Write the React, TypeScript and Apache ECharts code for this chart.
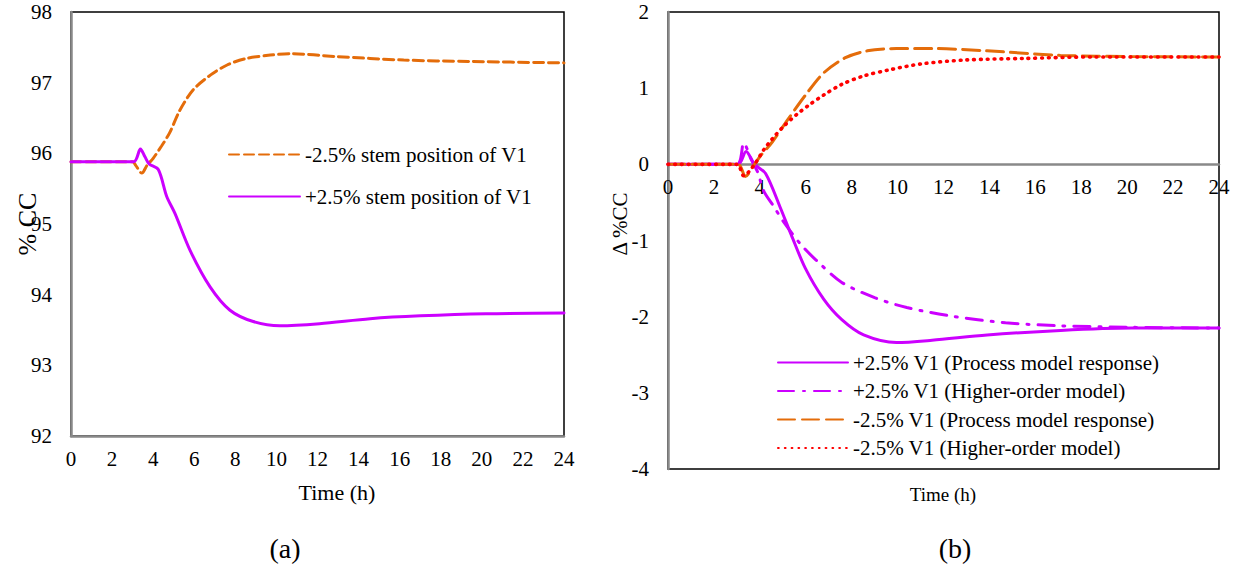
import React, { useEffect, useRef } from "react";
import * as echarts from "echarts";

// ---- Data ----
// (a) absolute %CC
const aMinusT = [0, 3.0, 3.15, 3.45, 3.7, 4.0, 4.4, 4.8, 5.3, 5.95, 6.8, 7.6, 8.5, 9.7, 10.7, 12.9, 16.2, 19.4, 24];
const aMinusV = [95.88, 95.88, 95.83, 95.72, 95.83, 95.93, 96.1, 96.29, 96.61, 96.9, 97.11, 97.25, 97.34, 97.39, 97.41, 97.37, 97.32, 97.3, 97.28];
const aPlusT = [0, 3.05, 3.38, 3.6, 3.8, 4.25, 4.66, 5.06, 5.79, 6.77, 7.74, 8.87, 10.17, 12.1, 14.56, 17, 20.2, 24];
const aPlusV = [95.88, 95.88, 96.06, 95.95, 95.85, 95.77, 95.39, 95.15, 94.63, 94.11, 93.78, 93.62, 93.56, 93.59, 93.66, 93.7, 93.73, 93.74];

// (b) delta %CC
const bPlusProcT = [0, 3.05, 3.4, 3.77, 4.25, 4.88, 5.36, 5.99, 6.78, 7.57, 8.52, 9.95, 11.5, 13.9, 17.1, 20.2, 24];
const bPlusProcV = [0, 0, 0.17, 0, -0.12, -0.56, -0.92, -1.37, -1.77, -2.04, -2.24, -2.34, -2.31, -2.24, -2.18, -2.15, -2.15];
const bPlusHighT = [0, 3.0, 3.3, 3.6, 3.93, 4.15, 4.6, 5.0, 5.75, 6.46, 7.57, 9.0, 10.4, 12.3, 14.7, 17.1, 20.2, 24];
const bPlusHighV = [0, 0, 0.28, 0.08, -0.12, -0.34, -0.55, -0.74, -1.04, -1.26, -1.55, -1.75, -1.88, -1.99, -2.08, -2.12, -2.14, -2.15];
const bMinusProcT = [0, 3.05, 3.37, 3.7, 4.0, 4.56, 5.2, 5.99, 6.78, 7.73, 8.68, 9.95, 11.5, 13.9, 17.1, 20.2, 24];
const bMinusProcV = [0, 0, -0.16, -0.03, 0.1, 0.3, 0.58, 0.91, 1.2, 1.4, 1.49, 1.52, 1.52, 1.49, 1.43, 1.415, 1.41];
const bMinusHighT = [0, 3.0, 3.3, 3.77, 4.17, 4.56, 5.04, 5.59, 6.15, 6.78, 7.57, 8.52, 9.63, 11.06, 12.96, 15.5, 18.66, 24];
const bMinusHighV = [0, 0, -0.15, 0, 0.19, 0.34, 0.5, 0.65, 0.78, 0.91, 1.05, 1.16, 1.24, 1.32, 1.37, 1.39, 1.41, 1.41];

const xTicks = { min: 0, max: 24, interval: 2 };
const aY = { min: 92, max: 98, interval: 1 };
const bY = { min: -4, max: 2, interval: 1 };

const names = {
  aMinus: "-2.5% stem position of V1",
  aPlus: "+2.5% stem position of V1",
  bPlusProc: "+2.5% V1 (Process model response)",
  bPlusHigh: "+2.5% V1 (Higher-order model)",
  bMinusProc: "-2.5% V1 (Process model response)",
  bMinusHigh: "-2.5% V1 (Higher-order model)",
};

const ORANGE = "#E46C0A";
const PURPLE = "#CC00FF";
const RED = "#FF0000";
const GRAY = "#898989";
const FONT = "'Liberation Serif', 'Times New Roman', serif";

const zip = (t: number[], v: number[]) => t.map((x, i) => [x, v[i]]);

export default function App() {
  const ref = useRef<HTMLDivElement>(null);
  useEffect(() => {
    if (!ref.current) return;
    const chart = echarts.init(ref.current, undefined, { renderer: "svg" });
    const axisLabel = { color: "#000", fontFamily: FONT, fontSize: 21 };
    const mkX = (gridIndex: number, offset: number) => ({
      type: "value",
      gridIndex,
      ...xTicks,
      offset,
      axisLine: { show: true, onZero: false, lineStyle: { color: GRAY, width: 2.5 } },
      axisTick: { show: false },
      splitLine: { show: false },
      axisLabel: { ...axisLabel, margin: 12 },
    });
    const mkY = (gridIndex: number, r: any) => ({
      type: "value",
      gridIndex,
      ...r,
      axisLine: { show: true, lineStyle: { color: GRAY, width: 2.5 } },
      axisTick: { show: false },
      splitLine: { show: false },
      axisLabel: { ...axisLabel, margin: 19 },
    });
    const line = (name: string, xi: number, data: number[][], color: string, type: any, width = 3) => ({
      type: "line",
      name,
      xAxisIndex: xi,
      yAxisIndex: xi,
      data,
      smooth: 0.3,
      symbol: "none",
      showSymbol: false,
      lineStyle: { color, width, type, cap: "round" },
      itemStyle: { color },
    });
    const legendText = { color: "#000", fontFamily: FONT, fontSize: 21 };
    chart.setOption({
      animation: false,
      textStyle: { fontFamily: FONT },
      grid: [
        { left: 71, top: 12, width: 493, height: 424, show: true, borderColor: "#000", borderWidth: 1.5 },
        { left: 668, top: 12, width: 551, height: 457, show: true, borderColor: "#000", borderWidth: 1.5 },
      ],
      xAxis: [mkX(0, 0), mkX(1, -(457 * 4) / 6)],
      yAxis: [mkY(0, aY), mkY(1, bY)],
      legend: [
        {
          data: [names.aMinus, names.aPlus],
          orient: "vertical",
          left: 223,
          top: 139,
          itemWidth: 71,
          itemHeight: 14,
          itemGap: 21,
          itemStyle: { opacity: 0 },
          textStyle: legendText,
        },
        {
          data: [names.bPlusProc, names.bPlusHigh, names.bMinusProc, names.bMinusHigh],
          orient: "vertical",
          left: 772,
          top: 347,
          itemWidth: 70,
          itemHeight: 14,
          itemGap: 7.5,
          itemStyle: { opacity: 0 },
          textStyle: legendText,
        },
      ],
      series: [
        line(names.aMinus, 0, zip(aMinusT, aMinusV), ORANGE, [10, 5]),
        line(names.aPlus, 0, zip(aPlusT, aPlusV), PURPLE, "solid"),
        line(names.bPlusProc, 1, zip(bPlusProcT, bPlusProcV), PURPLE, "solid"),
        line(names.bPlusHigh, 1, zip(bPlusHighT, bPlusHighV), PURPLE, [16, 9, 2, 9]),
        line(names.bMinusProc, 1, zip(bMinusProcT, bMinusProcV), ORANGE, [17, 7]),
        line(names.bMinusHigh, 1, zip(bMinusHighT, bMinusHighV), RED, [0.8, 6], 3.6),
      ],
      graphic: [
        { type: "text", x: 27, y: 224, rotation: Math.PI / 2, style: { text: "% CC", fontFamily: FONT, fontSize: 26, fill: "#000", align: "center", verticalAlign: "middle" } },
        { type: "text", x: 620, y: 224, rotation: Math.PI / 2, style: { text: "Δ %CC", fontFamily: FONT, fontSize: 21, fill: "#000", align: "center", verticalAlign: "middle" } },
        { type: "text", x: 337, y: 492, style: { text: "Time (h)", fontFamily: FONT, fontSize: 22, fill: "#000", align: "center", verticalAlign: "middle" } },
        { type: "text", x: 943, y: 494, style: { text: "Time (h)", fontFamily: FONT, fontSize: 19, fill: "#000", align: "center", verticalAlign: "middle" } },
        { type: "text", x: 285, y: 548, style: { text: "(a)", fontFamily: FONT, fontSize: 28, fill: "#000", align: "center", verticalAlign: "middle" } },
        { type: "text", x: 955, y: 548, style: { text: "(b)", fontFamily: FONT, fontSize: 28, fill: "#000", align: "center", verticalAlign: "middle" } },
      ],
    });
    return () => chart.dispose();
  }, []);
  return <div ref={ref} style={{ position: "absolute", left: 0, top: 0, width: 1238, height: 569 }} />;
}
